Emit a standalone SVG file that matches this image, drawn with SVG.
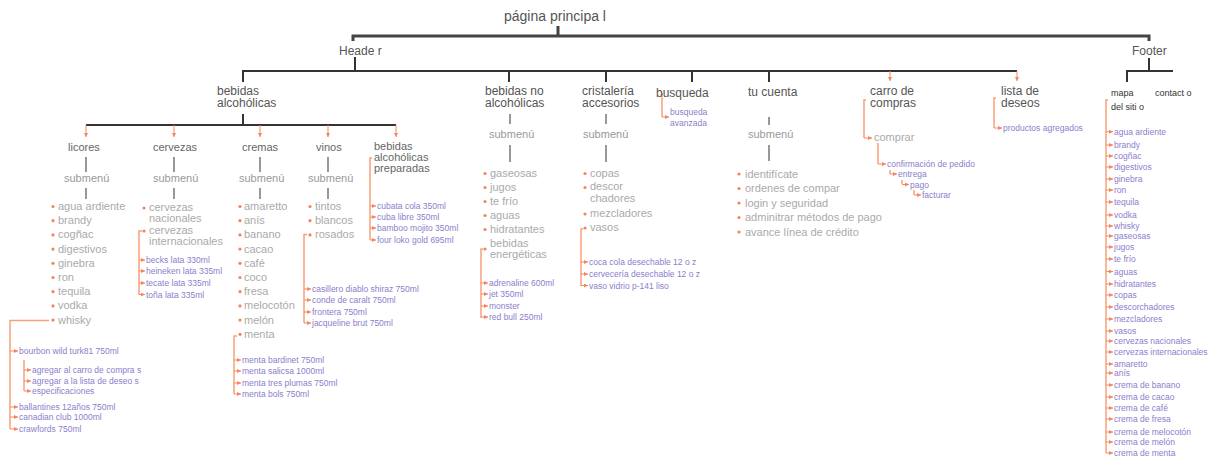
<svg xmlns="http://www.w3.org/2000/svg" width="1209" height="459" viewBox="0 0 1209 459">
<style>
text{font-family:"Liberation Sans",Arial,sans-serif}
.t{font-size:14px;fill:#555}
.h{font-size:12px;fill:#555}
.c{font-size:11px;fill:#666}
.s{font-size:11px;fill:#999}
.i{font-size:11px;fill:#aaa}
.p{font-size:8.5px;fill:#8b80cc}
.m{font-size:9px;fill:#333}
.k{stroke:#444;stroke-width:3;fill:none}
.b{stroke:#333;stroke-width:2;fill:none}
.g{stroke:#777;stroke-width:1.5;fill:none}
.o{stroke:#f7a07c;stroke-width:1.5;fill:none}
.a{stroke:#f58a5e;stroke-width:1;fill:none;marker-end:url(#ar)}
.d{fill:#f4845f}
</style>
<defs>
<marker id="ar" markerUnits="userSpaceOnUse" markerWidth="4" markerHeight="4" refX="4" refY="2" orient="auto"><path d="M0,0L4,2L0,4z" fill="#f4845f"/></marker>
</defs>
<rect width="1209" height="459" fill="#fff"/>
<g id="connectors">
<path class="k" d="M558,26V36M353,41V36H1149V41"/>
<path class="b" d="M355,57V71M243,82V71H1017M509,71V82M606,71V82M692,71V82M769,71V82"/>
<path class="b" d="M1149,58V71M1127,82V71H1173"/>
<path class="b" d="M243,114V125M86,125H396"/>
<line class="a" x1="86" y1="125" x2="86" y2="137"/>
<line class="a" x1="174" y1="125" x2="174" y2="137"/>
<line class="a" x1="260" y1="125" x2="260" y2="137"/>
<line class="a" x1="328" y1="125" x2="328" y2="137"/>
<line class="a" x1="396" y1="125" x2="396" y2="137"/>
<line class="a" x1="890" y1="71" x2="890" y2="81"/>
<line class="a" x1="1017" y1="71" x2="1017" y2="81"/>
<path class="g" d="M86,157V172M86,188V199M174,157V172M174,188V199M260,157V172M260,188V199M328,157V172M328,188V199"/>
<path class="g" d="M510,114V124M510,145V162M606,114V124M606,145V162M769,117V125M769,145V161"/>
<!-- licores whisky -->
<path class="o" d="M49,320.5H10V429M24,360V391"/>
<line class="a" x1="10" y1="351" x2="18" y2="351"/>
<line class="a" x1="24" y1="370" x2="31" y2="370"/>
<line class="a" x1="24" y1="381" x2="31" y2="381"/>
<line class="a" x1="24" y1="391" x2="31" y2="391"/>
<line class="a" x1="10" y1="407" x2="18" y2="407"/>
<line class="a" x1="10" y1="417" x2="18" y2="417"/>
<line class="a" x1="10" y1="429" x2="18" y2="429"/>
<!-- cervezas -->
<path class="o" d="M142,231H139V295"/>
<line class="a" x1="139" y1="260" x2="145" y2="260"/>
<line class="a" x1="139" y1="271" x2="145" y2="271"/>
<line class="a" x1="139" y1="283" x2="145" y2="283"/>
<line class="a" x1="139" y1="294.5" x2="145" y2="294.5"/>
<!-- cremas menta -->
<path class="o" d="M237,336H234V394"/>
<line class="a" x1="234" y1="360" x2="241" y2="360"/>
<line class="a" x1="234" y1="371" x2="241" y2="371"/>
<line class="a" x1="234" y1="383" x2="241" y2="383"/>
<line class="a" x1="234" y1="394" x2="241" y2="394"/>
<!-- vinos rosados -->
<path class="o" d="M307,234.5H304V323"/>
<line class="a" x1="304" y1="289" x2="311" y2="289"/>
<line class="a" x1="304" y1="300" x2="311" y2="300"/>
<line class="a" x1="304" y1="312" x2="311" y2="312"/>
<line class="a" x1="304" y1="323" x2="311" y2="323"/>
<!-- preparadas -->
<path class="o" d="M372,158H370V240"/>
<line class="a" x1="370" y1="206" x2="376" y2="206"/>
<line class="a" x1="370" y1="217" x2="376" y2="217"/>
<line class="a" x1="370" y1="228" x2="376" y2="228"/>
<line class="a" x1="370" y1="240" x2="376" y2="240"/>
<!-- energeticas -->
<path class="o" d="M483,249H481V318"/>
<line class="a" x1="481" y1="283" x2="488" y2="283"/>
<line class="a" x1="481" y1="294" x2="488" y2="294"/>
<line class="a" x1="481" y1="306" x2="488" y2="306"/>
<line class="a" x1="481" y1="317" x2="488" y2="317"/>
<!-- vasos -->
<path class="o" d="M583,229H581V286"/>
<line class="a" x1="581" y1="262" x2="588" y2="262"/>
<line class="a" x1="581" y1="274" x2="588" y2="274"/>
<line class="a" x1="581" y1="285.5" x2="588" y2="285.5"/>
<!-- busqueda -->
<path class="o" d="M662,93V117"/>
<line class="a" x1="662" y1="117" x2="669" y2="117"/>
<!-- carro -->
<path class="o" d="M866,100H864V138M878,143V164M890,170V174M902,180V184M914,190V195"/>
<line class="a" x1="864" y1="138" x2="872" y2="138"/>
<line class="a" x1="878" y1="164" x2="886" y2="164"/>
<line class="a" x1="890" y1="174" x2="897" y2="174"/>
<line class="a" x1="902" y1="184.5" x2="909" y2="184.5"/>
<line class="a" x1="914" y1="195" x2="921" y2="195"/>
<!-- lista -->
<path class="o" d="M996,98H994V128"/>
<line class="a" x1="994" y1="128" x2="1002" y2="128"/>
<!-- mapa -->
<path class="o" d="M1108,100H1106V453"/>
<g id="mapa-stubs">
<line class="a" x1="1106" y1="131.7" x2="1113" y2="131.7"/>
<line class="a" x1="1106" y1="145" x2="1113" y2="145"/>
<line class="a" x1="1106" y1="156" x2="1113" y2="156"/>
<line class="a" x1="1106" y1="167" x2="1113" y2="167"/>
<line class="a" x1="1106" y1="179" x2="1113" y2="179"/>
<line class="a" x1="1106" y1="190" x2="1113" y2="190"/>
<line class="a" x1="1106" y1="202" x2="1113" y2="202"/>
<line class="a" x1="1106" y1="215" x2="1113" y2="215"/>
<line class="a" x1="1106" y1="226" x2="1113" y2="226"/>
<line class="a" x1="1106" y1="236" x2="1113" y2="236"/>
<line class="a" x1="1106" y1="247" x2="1113" y2="247"/>
<line class="a" x1="1106" y1="259" x2="1113" y2="259"/>
<line class="a" x1="1106" y1="271.5" x2="1113" y2="271.5"/>
<line class="a" x1="1106" y1="284" x2="1113" y2="284"/>
<line class="a" x1="1106" y1="295" x2="1113" y2="295"/>
<line class="a" x1="1106" y1="307" x2="1113" y2="307"/>
<line class="a" x1="1106" y1="319" x2="1113" y2="319"/>
<line class="a" x1="1106" y1="331" x2="1113" y2="331"/>
<line class="a" x1="1106" y1="341" x2="1113" y2="341"/>
<line class="a" x1="1106" y1="352" x2="1113" y2="352"/>
<line class="a" x1="1106" y1="364" x2="1113" y2="364"/>
<line class="a" x1="1106" y1="373" x2="1113" y2="373"/>
<line class="a" x1="1106" y1="385" x2="1113" y2="385"/>
<line class="a" x1="1106" y1="397" x2="1113" y2="397"/>
<line class="a" x1="1106" y1="408" x2="1113" y2="408"/>
<line class="a" x1="1106" y1="419" x2="1113" y2="419"/>
<line class="a" x1="1106" y1="432" x2="1113" y2="432"/>
<line class="a" x1="1106" y1="442" x2="1113" y2="442"/>
<line class="a" x1="1106" y1="453" x2="1113" y2="453"/>
</g>
</g>

<g id="pagina-principal"><text class="t" x="504" y="21">página principa l</text></g>
<g id="header"><text class="h" x="339" y="55">Heade r</text></g>
<g id="footer"><text class="h" x="1132" y="55">Footer</text></g>

<g id="bebidas-alcoholicas"><text class="h" x="217" y="95">bebidas</text><text class="h" x="217" y="107">alcohólicas</text></g>
<g id="bebidas-no-alcoholicas"><text class="h" x="485" y="95">bebidas no</text><text class="h" x="485" y="107">alcohólicas</text></g>
<g id="cristaleria"><text class="h" x="582" y="95">cristalería</text><text class="h" x="582" y="107">accesorios</text></g>
<g id="busqueda"><text class="h" x="656" y="97">busqueda</text><text class="p" x="670" y="115">busqueda</text><text class="p" x="670" y="126">avanzada</text></g>
<g id="tu-cuenta"><text class="h" x="748" y="96">tu cuenta</text></g>
<g id="carro"><text class="h" x="870" y="95">carro de</text><text class="h" x="870" y="107">compras</text>
<text class="i" x="874" y="141">comprar</text>
<text class="p" x="887" y="167">confirmación de pedido</text>
<text class="p" x="898" y="177">entrega</text>
<text class="p" x="910" y="187.5">pago</text>
<text class="p" x="922" y="198">facturar</text></g>
<g id="lista"><text class="h" x="1001" y="95">lista de</text><text class="h" x="1001" y="107">deseos</text><text class="p" x="1003" y="131">productos agregados</text></g>
<g id="mapa"><text class="m" x="1111" y="96">mapa</text><text class="m" x="1111" y="110">del siti o</text></g>
<g id="contacto"><text class="m" x="1155" y="96">contact o</text></g>

<g id="licores"><text class="c" x="68" y="151">licores</text><text class="s" x="64" y="182">submenú</text>
<circle class="d" cx="53" cy="206.5" r="1.6"/><circle class="d" cx="53" cy="220.7" r="1.6"/><circle class="d" cx="53" cy="234.9" r="1.6"/><circle class="d" cx="53" cy="249.1" r="1.6"/><circle class="d" cx="53" cy="263.3" r="1.6"/><circle class="d" cx="53" cy="277.5" r="1.6"/><circle class="d" cx="53" cy="291.7" r="1.6"/><circle class="d" cx="53" cy="305.9" r="1.6"/><circle class="d" cx="53" cy="320.1" r="1.6"/>
<text class="i" x="58" y="210">agua ardiente</text><text class="i" x="58" y="224.2">brandy</text><text class="i" x="58" y="238.4">cogñac</text><text class="i" x="58" y="252.6">digestivos</text><text class="i" x="58" y="266.8">ginebra</text><text class="i" x="58" y="281">ron</text><text class="i" x="58" y="295.2">tequila</text><text class="i" x="58" y="309.4">vodka</text><text class="i" x="58" y="323.6">whisky</text>
<text class="p" x="19" y="354">bourbon wild turk81 750ml</text>
<text class="p" x="32" y="373">agregar al carro de compra s</text>
<text class="p" x="32" y="384">agregar a la lista de deseo s</text>
<text class="p" x="32" y="394">especificaciones</text>
<text class="p" x="19" y="410">ballantines 12años 750ml</text>
<text class="p" x="19" y="420">canadian club 1000ml</text>
<text class="p" x="19" y="432">crawfords 750ml</text></g>

<g id="cervezas"><text class="c" x="153" y="151">cervezas</text><text class="s" x="153" y="182">submenú</text>
<circle class="d" cx="144" cy="208" r="1.6"/><circle class="d" cx="144" cy="231" r="1.6"/>
<text class="i" x="149" y="211">cervezas</text><text class="i" x="149" y="222">nacionales</text>
<text class="i" x="149" y="234">cervezas</text><text class="i" x="149" y="245">internacionales</text>
<text class="p" x="146" y="263">becks lata 330ml</text><text class="p" x="146" y="274">heineken lata 335ml</text><text class="p" x="146" y="286">tecate lata 335ml</text><text class="p" x="146" y="297.5">toña lata 335ml</text></g>

<g id="cremas"><text class="c" x="242" y="151">cremas</text><text class="s" x="239" y="182">submenú</text>
<circle class="d" cx="240" cy="206.5" r="1.6"/><circle class="d" cx="240" cy="220.7" r="1.6"/><circle class="d" cx="240" cy="234.9" r="1.6"/><circle class="d" cx="240" cy="249.1" r="1.6"/><circle class="d" cx="240" cy="263.3" r="1.6"/><circle class="d" cx="240" cy="277.5" r="1.6"/><circle class="d" cx="240" cy="291.7" r="1.6"/><circle class="d" cx="240" cy="305.9" r="1.6"/><circle class="d" cx="240" cy="320.1" r="1.6"/><circle class="d" cx="240" cy="334.3" r="1.6"/>
<text class="i" x="244" y="210">amaretto</text><text class="i" x="244" y="224.2">anís</text><text class="i" x="244" y="238.4">banano</text><text class="i" x="244" y="252.6">cacao</text><text class="i" x="244" y="266.8">café</text><text class="i" x="244" y="281">coco</text><text class="i" x="244" y="295.2">fresa</text><text class="i" x="244" y="309.4">melocotón</text><text class="i" x="244" y="323.6">melón</text><text class="i" x="244" y="337.8">menta</text>
<text class="p" x="242" y="363">menta bardinet 750ml</text><text class="p" x="242" y="374">menta salicsa 1000ml</text><text class="p" x="242" y="386">menta tres plumas 750ml</text><text class="p" x="242" y="397">menta bols 750ml</text></g>

<g id="vinos"><text class="c" x="316" y="151">vinos</text><text class="s" x="308" y="182">submenú</text>
<circle class="d" cx="310" cy="206.5" r="1.6"/><circle class="d" cx="310" cy="220.7" r="1.6"/><circle class="d" cx="310" cy="234.9" r="1.6"/>
<text class="i" x="315" y="210">tintos</text><text class="i" x="315" y="224.2">blancos</text><text class="i" x="315" y="238.4">rosados</text>
<text class="p" x="312" y="292">casillero diablo shiraz 750ml</text><text class="p" x="312" y="303">conde de caralt 750ml</text><text class="p" x="312" y="315">frontera 750ml</text><text class="p" x="312" y="326">jacqueline brut 750ml</text></g>

<g id="preparadas"><text class="c" x="374" y="150">bebidas</text><text class="c" x="374" y="161">alcohólicas</text><text class="c" x="374" y="172">preparadas</text>
<text class="p" x="377" y="209">cubata cola 350ml</text><text class="p" x="377" y="220">cuba libre 350ml</text><text class="p" x="377" y="231">bamboo mojito 350ml</text><text class="p" x="377" y="243">four loko gold 695ml</text></g>

<g id="no-alc-sub"><text class="s" x="489" y="138">submenú</text>
<circle class="d" cx="485" cy="173.5" r="1.6"/><circle class="d" cx="485" cy="187.5" r="1.6"/><circle class="d" cx="485" cy="201.5" r="1.6"/><circle class="d" cx="485" cy="215.5" r="1.6"/><circle class="d" cx="485" cy="229.5" r="1.6"/><circle class="d" cx="485" cy="249" r="1.6"/>
<text class="i" x="490" y="177">gaseosas</text><text class="i" x="490" y="191">jugos</text><text class="i" x="490" y="205">te frío</text><text class="i" x="490" y="219">aguas</text><text class="i" x="490" y="233">hidratantes</text><text class="i" x="490" y="247">bebidas</text><text class="i" x="490" y="258">energéticas</text>
<text class="p" x="489" y="286">adrenaline 600ml</text><text class="p" x="489" y="297">jet 350ml</text><text class="p" x="489" y="309">monster</text><text class="p" x="489" y="320">red bull 250ml</text></g>

<g id="cristaleria-sub"><text class="s" x="583" y="138">submenú</text>
<circle class="d" cx="585" cy="173.5" r="1.6"/><circle class="d" cx="585" cy="187.5" r="1.6"/><circle class="d" cx="585" cy="214" r="1.6"/><circle class="d" cx="585" cy="228" r="1.6"/>
<text class="i" x="590" y="177">copas</text><text class="i" x="590" y="190">descor</text><text class="i" x="590" y="202">chadores</text><text class="i" x="590" y="217">mezcladores</text><text class="i" x="590" y="231">vasos</text>
<text class="p" x="589" y="265">coca cola desechable 12 o z</text><text class="p" x="589" y="277">cervecería desechable 12 o z</text><text class="p" x="589" y="288.5">vaso vidrio p-141 liso</text></g>

<g id="cuenta-sub"><text class="s" x="748" y="138">submenú</text>
<circle class="d" cx="739" cy="174" r="1.6"/><circle class="d" cx="739" cy="188.5" r="1.6"/><circle class="d" cx="739" cy="203" r="1.6"/><circle class="d" cx="739" cy="217.5" r="1.6"/><circle class="d" cx="739" cy="232" r="1.6"/>
<text class="i" x="745" y="177.5">identifícate</text><text class="i" x="745" y="192">ordenes de compar</text><text class="i" x="745" y="206.5">login y seguridad</text><text class="i" x="745" y="221">adminitrar métodos de pago</text><text class="i" x="745" y="235.5">avance línea de crédito</text></g>

<g id="mapa-items">
<text class="p" x="1114" y="134.7">agua ardiente</text>
<text class="p" x="1114" y="148">brandy</text>
<text class="p" x="1114" y="159">cogñac</text>
<text class="p" x="1114" y="170">digestivos</text>
<text class="p" x="1114" y="182">ginebra</text>
<text class="p" x="1114" y="193">ron</text>
<text class="p" x="1114" y="205">tequila</text>
<text class="p" x="1114" y="218">vodka</text>
<text class="p" x="1114" y="229">whisky</text>
<text class="p" x="1114" y="239">gaseosas</text>
<text class="p" x="1114" y="250">jugos</text>
<text class="p" x="1114" y="262">te frío</text>
<text class="p" x="1114" y="274.5">aguas</text>
<text class="p" x="1114" y="287">hidratantes</text>
<text class="p" x="1114" y="298">copas</text>
<text class="p" x="1114" y="310">descorchadores</text>
<text class="p" x="1114" y="322">mezcladores</text>
<text class="p" x="1114" y="334">vasos</text>
<text class="p" x="1114" y="344">cervezas nacionales</text>
<text class="p" x="1114" y="355">cervezas internacionales</text>
<text class="p" x="1114" y="367">amaretto</text>
<text class="p" x="1114" y="376">anís</text>
<text class="p" x="1114" y="388">crema de banano</text>
<text class="p" x="1114" y="400">crema de cacao</text>
<text class="p" x="1114" y="411">crema de café</text>
<text class="p" x="1114" y="422">crema de fresa</text>
<text class="p" x="1114" y="435">crema de melocotón</text>
<text class="p" x="1114" y="445">crema de melón</text>
<text class="p" x="1114" y="456">crema de menta</text>
</g>
</svg>
